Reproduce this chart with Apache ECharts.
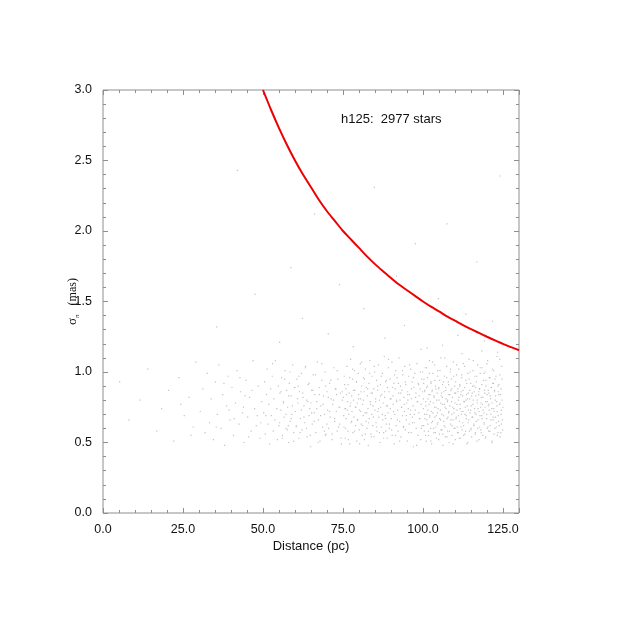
<!DOCTYPE html>
<html>
<head>
<meta charset="utf-8">
<script src="https://cdn.jsdelivr.net/npm/echarts@6/dist/echarts.min.js"></script>
<style>
  html, body { margin: 0; padding: 0; background: #fff; }
  #chart { width: 623px; height: 623px; }
</style>
</head>
<body>
<div id="chart"></div>
<script>
  // tick labels
  const xTicks = [0, 25, 50, 75, 100, 125]
  const yTicks = [0, 0.5, 1.0, 1.5, 2.0, 2.5, 3.0]

  // red limit curve: [distance pc, sigma mas]
  const limitCurve = [
    [50, 3.0], [52.5, 2.86], [55, 2.73], [57.5, 2.61], [60, 2.5], [62.5, 2.4], [65, 2.31],
    [67.5, 2.22], [70, 2.14], [72.5, 2.07], [75, 2.0], [77.5, 1.94], [80, 1.88], [82.5, 1.82],
    [85, 1.765], [87.5, 1.715], [90, 1.667], [92.5, 1.62], [95, 1.58], [97.5, 1.54], [100, 1.5],
    [102.5, 1.463], [105, 1.43], [107.5, 1.395], [110, 1.364], [112.5, 1.333], [115, 1.304],
    [117.5, 1.277], [120, 1.25], [122.5, 1.224], [125, 1.2], [127.5, 1.176], [130, 1.154]
  ]

  // stars (estimated positions, thinned), by distance band
  const starsNear = [
    [5.2,0.93],[8.1,0.66],[11.5,0.80],[14.0,1.02],[16.8,0.58],[18.3,0.74],[20.5,0.87],[22.1,0.51],
    [23.7,0.96],[25.4,0.69],[26.9,0.82],[28.2,0.61],[29.0,1.07],[27.5,0.55],[24.3,0.77]
  ]
  const starsInner = [
    [30.4,0.72],[31.2,0.88],[31.9,0.57],[32.6,0.99],[33.3,0.64],[33.8,0.81],[34.5,0.52],[35.1,0.93],
    [35.7,0.70],[36.2,1.05],[36.9,0.60],[37.4,0.84],[38.0,0.48],[38.6,0.76],[39.1,0.97],[39.7,0.66],
    [40.3,0.89],[40.8,0.55],[41.4,0.78],[41.9,1.01],[42.5,0.63],[43.0,0.86],[43.6,0.71],[44.1,0.50],
    [44.7,0.94],[45.2,0.68],[45.8,0.82],[46.3,0.58],[46.9,1.08],[47.4,0.74],[47.9,0.62],[48.5,0.90],
    [49.0,0.53],[49.6,0.79],[41.0,0.67],[43.9,0.75],[46.6,0.87],[48.2,0.69],[37.8,0.92],[35.4,0.61],
    [42.8,0.96],[45.5,0.54],[49.3,0.64],[39.4,0.73],[44.4,0.83]
  ]
  const starsMid = [
    [50.2,0.71],[50.5,0.93],[50.7,0.56],[51.1,0.84],[51.3,1.02],[51.6,0.63],[51.8,0.77],[52.1,0.49],[52.4,0.88],[52.6,0.69],
    [52.9,0.97],[53.2,0.58],[53.4,0.81],[53.7,0.66],[53.9,1.08],[54.3,0.74],[54.5,0.52],[54.8,0.90],[55.0,0.62],[55.3,0.85],
    [55.6,0.73],[55.8,0.96],[56.1,0.55],[56.4,0.79],[56.6,0.68],[56.9,1.01],[57.2,0.60],[57.4,0.87],[57.7,0.75],[58.0,0.50],
    [58.2,0.92],[58.5,0.65],[58.8,0.83],[59.0,0.70],[59.3,1.05],[59.6,0.57],[59.8,0.89],[60.1,0.72],[60.4,0.61],[60.6,0.95],
    [60.9,0.78],[61.2,0.53],[61.4,0.86],[61.7,0.67],[62.0,0.99],[62.2,0.59],[62.5,0.82],[62.8,0.76],[63.0,0.64],[63.3,1.04],
    [63.6,0.80],[63.8,0.54],[64.1,0.91],[64.4,0.69],[64.6,0.74],[64.9,0.47],[65.2,0.87],[65.4,0.63],[65.7,0.98],[66.0,0.71],
    [66.2,0.84],[66.5,0.57],[66.8,0.79],[67.0,1.07],[67.3,0.66],[67.6,0.89],[67.8,0.51],[68.1,0.76],[68.4,0.94],[68.6,0.61],
    [68.9,0.83],[69.2,0.70],[69.4,1.00],[69.7,0.56],[70.0,0.86],[70.2,0.73],[70.5,0.60],[70.8,0.92],[71.0,0.68],[71.3,0.81],
    [71.6,0.52],[71.8,0.77],[72.1,1.03],[72.4,0.65],[72.6,0.88],[72.9,0.72],[73.2,0.58],[73.4,0.95],[73.7,0.75],[74.0,0.63],
    [74.2,0.85],[74.5,0.49],[74.8,0.80],[50.9,0.69],[53.0,1.06],[57.9,0.62],[61.0,0.90],[65.0,0.78],[69.5,0.55],[73.0,0.84]
  ]
  const starsOuter = [
    [75.1,0.82],[75.3,0.61],[75.4,0.97],[75.6,0.74],[75.7,0.53],[75.9,0.88],[76.0,0.67],[76.2,1.04],[76.4,0.79],[76.5,0.58],
    [76.6,0.91],[76.8,0.70],[76.9,0.85],[77.1,0.49],[77.2,0.76],[77.4,1.09],[77.5,0.64],[77.7,0.83],[77.8,0.72],[78.0,0.95],
    [78.1,0.57],[78.3,0.80],[78.4,0.68],[78.6,1.01],[78.7,0.87],[78.9,0.62],[79.0,0.75],[79.2,0.93],[79.3,0.51],[79.5,0.78],
    [79.6,0.66],[79.8,0.99],[79.9,0.84],[80.1,0.59],[80.2,0.73],[80.4,1.06],[80.5,0.81],[80.7,0.63],[80.8,0.90],[81.0,0.55],
    [81.1,0.77],[81.3,0.69],[81.4,0.96],[81.6,0.86],[81.7,0.52],[81.9,0.71],[82.0,1.02],[82.2,0.65],[82.3,0.89],[82.5,0.60],
    [82.6,0.83],[82.8,0.74],[82.9,0.48],[83.1,0.92],[83.2,0.67],[83.4,1.08],[83.5,0.79],[83.7,0.56],[83.8,0.85],[84.0,0.70],
    [84.1,0.97],[84.3,0.62],[84.4,0.76],[84.6,0.88],[84.7,0.54],[84.9,1.00],[85.0,0.73],[85.2,0.81],[85.3,0.64],[85.5,0.94],
    [85.6,0.58],[85.8,0.87],[85.9,0.72],[86.1,1.05],[86.2,0.68],[86.4,0.80],[86.5,0.50],[86.7,0.91],[86.8,0.75],[87.0,0.61],
    [87.1,0.84],[87.3,0.99],[87.4,0.66],[87.6,0.78],[87.7,0.57],[87.9,1.11],[88.0,0.82],[88.2,0.69],[88.3,0.93],[88.5,0.63],
    [88.6,0.76],[88.8,0.53],[88.9,0.89],[89.1,0.71],[89.2,1.03],[89.4,0.86],[89.5,0.60],[89.7,0.95],[89.8,0.74],[90.0,0.81],
    [90.1,0.67],[90.3,1.07],[90.4,0.55],[90.6,0.83],[90.7,0.77],[90.9,0.92],[91.0,0.49],[91.2,0.70],[91.3,0.88],[91.5,1.01],
    [91.6,0.62],[91.8,0.79],[91.9,0.96],[92.1,0.73],[92.2,0.58],[92.4,0.85],[92.5,1.10],[92.7,0.65],[92.8,0.80],[93.0,0.90],
    [93.1,0.54],[93.3,0.75],[93.4,0.87],[93.6,0.69],[93.7,0.98],[93.9,0.61],[94.0,0.82],[94.2,0.72],[94.3,1.04],[94.5,0.59],
    [94.6,0.91],[94.8,0.66],[94.9,0.78],[95.1,0.51],[95.2,0.86],[95.4,0.74],[95.5,0.97],[95.7,0.63],[95.8,0.84],[96.0,0.70],
    [96.1,1.02],[96.3,0.57],[96.4,0.81],[96.6,0.93],[96.7,0.68],[96.9,0.76],[97.0,0.47],[97.2,0.89],[97.3,0.64],[97.5,0.99],
    [97.6,0.73],[97.8,0.85],[97.9,0.60],[98.1,1.06],[98.2,0.79],[98.4,0.55],[98.5,0.92],[98.7,0.71],[98.8,0.83],[99.0,0.67],
    [99.1,0.88],[99.3,0.52],[99.4,0.77],[99.6,0.95],[99.7,0.62],[99.9,1.00],[75.8,0.74],[80.6,0.86],[88.4,0.58],[95.3,0.80]
  ]
  const starsFar = [
    [100.1,0.74],[100.2,0.92],[100.4,0.58],[100.5,0.86],[100.6,0.67],[100.7,1.03],[100.9,0.79],[101.0,0.51],[101.1,0.89],[101.2,0.70],
    [101.4,0.96],[101.5,0.63],[101.6,0.81],[101.7,0.55],[101.9,0.77],[102.0,1.08],[102.1,0.69],[102.2,0.84],[102.4,0.60],[102.5,0.93],
    [102.6,0.72],[102.7,0.49],[102.9,0.87],[103.0,0.65],[103.1,0.99],[103.2,0.78],[103.4,0.57],[103.5,0.82],[103.6,1.05],[103.7,0.68],
    [103.9,0.90],[104.0,0.61],[104.1,0.75],[104.2,0.53],[104.4,0.85],[104.5,0.71],[104.6,1.01],[104.7,0.64],[104.9,0.88],[105.0,0.80],
    [105.1,0.56],[105.2,0.94],[105.4,0.73],[105.5,0.66],[105.6,1.10],[105.7,0.83],[105.9,0.59],[106.0,0.77],[106.1,0.91],[106.2,0.48],
    [106.4,0.69],[106.5,0.86],[106.6,0.62],[106.7,0.97],[106.9,0.75],[107.0,0.54],[107.1,0.89],[107.2,0.81],[107.4,1.04],[107.5,0.67],
    [107.6,0.79],[107.7,0.58],[107.9,0.93],[108.0,0.71],[108.1,0.84],[108.2,0.50],[108.4,0.76],[108.5,1.00],[108.6,0.63],[108.7,0.87],
    [108.9,0.95],[109.0,0.70],[109.1,0.55],[109.2,0.82],[109.4,0.66],[109.5,1.07],[109.6,0.74],[109.7,0.60],[109.9,0.90],[110.0,0.78],
    [110.1,0.52],[110.2,0.85],[110.4,0.68],[110.5,0.98],[110.6,0.73],[110.7,0.61],[110.9,0.88],[111.0,0.57],[111.1,0.80],[111.2,1.02],
    [111.4,0.65],[111.5,0.91],[111.6,0.77],[111.7,0.53],[111.9,0.86],[112.0,0.70],[112.1,0.96],[112.2,0.59],[112.4,0.83],[112.5,0.72],
    [112.6,1.06],[112.7,0.62],[112.9,0.79],[113.0,0.89],[113.1,0.56],[113.2,0.75],[113.4,0.94],[113.5,0.67],[113.6,0.84],[113.7,0.49],
    [113.9,0.81],[114.0,0.99],[114.1,0.64],[114.2,0.73],[114.4,1.09],[114.5,0.58],[114.6,0.87],[114.7,0.71],[114.9,0.92],[115.0,0.60],
    [115.1,0.76],[115.2,0.54],[115.4,0.85],[115.5,0.68],[115.6,1.01],[115.7,0.80],[115.9,0.63],[116.0,0.90],[116.1,0.74],[116.2,0.97],
    [116.4,0.57],[116.5,0.83],[116.6,0.70],[116.7,0.93],[116.9,0.51],[117.0,0.78],[117.1,1.05],[117.2,0.66],[117.4,0.86],[117.5,0.72],
    [117.6,0.88],[117.7,0.61],[117.9,0.99],[118.0,0.75],[118.1,0.59],[118.2,0.82],[118.4,0.69],[118.5,1.03],[118.6,0.77],[118.7,0.55],
    [118.9,0.94],[119.0,0.71],[119.1,0.64],[119.2,0.87],[119.4,1.00],[119.5,0.53],[119.6,0.79],[119.7,0.90],[119.9,0.67],[120.0,0.84],
    [120.1,0.60],[120.2,1.08],[120.4,0.76],[120.5,0.58],[120.6,0.85],[120.7,0.73],[120.9,0.96],[121.0,0.62],[121.1,0.81],[121.2,0.70],
    [121.4,0.89],[121.5,0.50],[121.6,0.78],[121.7,1.02],[121.9,0.66],[122.0,0.92],[122.1,0.74],[122.2,0.56],[122.4,0.87],[122.5,0.95],
    [122.6,0.68],[122.7,0.83],[122.9,0.61],[123.0,0.79],[123.1,1.11],[123.2,0.72],[123.4,0.57],[123.5,0.86],[123.6,0.65],[123.7,0.91],
    [123.9,0.77],[124.0,0.98],[124.1,0.54],[124.2,0.84],[124.4,0.70],[124.5,0.63],[124.6,1.04],[124.7,0.80],[124.9,0.59],[125.0,0.75]
  ]
  // a second pass over the denser part of the cloud
  const starsFill = [
    [55.2,0.64],[55.6,0.86],[56.0,0.53],[56.4,0.78],[56.8,0.95],[57.2,0.70],[57.6,0.59],[58.0,0.83],[58.4,1.00],[58.8,0.67],
    [59.2,0.76],[59.6,0.51],[60.0,0.89],[60.4,0.62],[60.8,0.81],[61.2,0.97],[61.6,0.57],[62.0,0.73],[62.4,0.85],[62.8,0.68],
    [63.2,1.03],[63.6,0.60],[64.0,0.79],[64.4,0.92],[64.8,0.55],[65.2,0.71],[65.6,0.87],[66.0,0.65],[66.4,0.98],[66.8,0.74],
    [67.2,0.50],[67.6,0.84],[68.0,0.69],[68.4,1.06],[68.8,0.77],[69.2,0.58],[69.6,0.90],[70.0,0.63],[70.4,0.82],[70.8,0.72],
    [71.2,0.94],[71.6,0.56],[72.0,0.80],[72.4,0.67],[72.8,0.88],[73.2,1.01],[73.6,0.61],[74.0,0.75],[74.4,0.53],[74.8,0.86],
    [75.2,0.69],[75.5,0.91],[75.8,0.60],[76.1,0.84],[76.4,0.73],[76.7,0.52],[77.1,0.96],[77.4,0.78],[77.7,0.65],[78.0,1.02],
    [78.3,0.87],[78.6,0.58],[78.9,0.75],[79.2,0.93],[79.5,0.66],[79.9,0.81],[80.2,0.49],[80.5,0.72],[80.8,1.07],[81.1,0.62],
    [81.4,0.80],[81.7,0.95],[82.0,0.56],[82.4,0.71],[82.7,0.88],[83.0,0.64],[83.3,0.99],[83.6,0.77],[83.9,0.54],[84.2,0.85],
    [84.5,0.68],[84.8,1.04],[85.2,0.79],[85.5,0.61],[85.8,0.90],[86.1,0.74],[86.4,0.57],[86.7,0.83],[87.0,0.97],[87.3,0.70],
    [87.7,0.53],[88.0,0.86],[88.3,0.67],[88.6,0.94],[88.9,0.76],[89.2,1.09],[89.5,0.63],[89.8,0.81],[90.2,0.59],[90.5,0.89],
    [90.8,0.72],[91.1,0.98],[91.4,0.55],[91.7,0.80],[92.0,0.66],[92.3,0.92],[92.7,0.51],[93.0,0.85],[93.3,0.75],[93.6,1.01],
    [93.9,0.61],[94.2,0.77],[94.5,0.93],[94.8,0.69],[95.2,0.84],[95.5,0.57],[95.8,1.05],[96.1,0.73],[96.4,0.88],[96.7,0.64],
    [97.0,0.96],[97.3,0.70],[97.7,0.82],[98.0,0.48],[98.3,0.79],[98.6,0.91],[98.9,0.67],[99.2,1.00],[99.5,0.60],[99.8,0.86],
    [100.1,0.81],[100.2,0.62],[100.3,0.95],[100.5,0.70],[100.6,0.87],[100.8,0.55],[100.9,0.76],[101.1,1.03],[101.2,0.66],[101.4,0.90],
    [101.5,0.73],[101.7,0.58],[101.8,0.84],[102.0,0.99],[102.1,0.68],[102.3,0.79],[102.4,0.51],[102.5,0.92],[102.7,0.64],[102.8,0.86],
    [103.0,1.07],[103.1,0.71],[103.3,0.60],[103.4,0.83],[103.6,0.75],[103.7,0.94],[103.9,0.57],[104.0,0.88],[104.2,0.69],[104.3,0.80],
    [104.5,0.63],[104.6,0.97],[104.7,0.74],[104.9,0.52],[105.0,0.89],[105.2,0.67],[105.3,1.01],[105.5,0.78],[105.6,0.59],[105.8,0.85],
    [105.9,0.70],[106.1,0.82],[106.2,0.56],[106.4,0.93],[106.5,0.65],[106.7,0.77],[106.8,1.10],[106.9,0.61],[107.1,0.87],[107.2,0.74],
    [107.4,0.96],[107.5,0.54],[107.7,0.80],[107.8,0.68],[108.0,0.91],[108.1,0.72],[108.3,0.58],[108.4,0.84],[108.6,1.02],[108.7,0.66],
    [108.9,0.79],[109.0,0.88],[109.1,0.62],[109.3,0.75],[109.4,0.49],[109.6,0.97],[109.7,0.71],[109.9,0.85],[110.0,0.60],[110.2,0.93],
    [110.3,0.67],[110.5,1.05],[110.6,0.77],[110.8,0.57],[110.9,0.86],[111.1,0.69],[111.2,0.82],[111.3,0.53],[111.5,0.90],[111.6,0.74],
    [111.8,0.84],[111.9,0.61],[112.1,0.98],[112.2,0.72],[112.4,0.64],[112.5,0.87],[112.7,0.55],[112.8,0.79],[113.0,1.04],[113.1,0.70],
    [113.3,0.58],[113.4,0.80],[113.5,0.69],[113.7,0.92],[113.8,0.76],[114.0,0.50],[114.1,0.85],[114.3,0.66],[114.4,0.95],[114.6,0.81],
    [114.7,1.00],[114.9,0.73],[115.0,0.59],[115.2,0.83],[115.3,0.68],[115.5,0.90],[115.6,0.77],[115.7,1.08],[115.9,0.62],[116.0,0.86],
    [116.2,0.71],[116.3,0.56],[116.5,0.89],[116.6,0.65],[116.8,0.97],[116.9,0.80],[117.1,0.60],[117.2,0.74],[117.4,0.84],[117.5,0.52],
    [117.7,0.88],[117.8,0.69],[117.9,1.03],[118.1,0.78],[118.2,0.57],[118.4,0.91],[118.5,0.67],[118.7,0.82],[118.8,0.73],[119.0,0.99],
    [119.1,0.63],[119.3,0.85],[119.4,0.75],[119.6,0.54],[119.7,0.94],[119.9,0.70],[120.0,1.06],[120.1,0.79],[120.3,0.61],[120.4,0.87],
    [120.6,0.77],[120.7,0.96],[120.9,0.58],[121.0,0.83],[121.2,0.66],[121.3,0.89],[121.5,0.74],[121.6,0.51],[121.8,0.92],[121.9,0.68],
    [122.1,1.01],[122.2,0.72],[122.3,0.86],[122.5,0.60],[122.6,0.80],[122.8,0.97],[122.9,0.64],[123.1,0.76],[123.2,0.55],[123.4,0.90],
    [123.5,0.69],[123.7,0.84],[123.8,0.62],[124.0,1.09],[124.1,0.78],[124.3,0.57],[124.4,0.88],[124.5,0.73],[124.7,0.95],[124.8,0.66]
  ]
  const starsHigh = [
    [35.5,1.32],[42.0,2.43],[47.5,1.55],[55.2,1.21],[58.7,1.74],[62.3,1.38],[66.1,2.12],[70.4,1.27],
    [73.9,1.62],[78.2,1.18],[81.5,1.45],[84.8,2.31],[88.1,1.24],[91.7,1.68],[94.2,1.33],[97.6,1.91],
    [101.3,1.17],[104.8,1.52],[107.5,2.05],[110.9,1.26],[113.4,1.41],[116.8,1.78],[119.2,1.22],[121.7,1.36],
    [124.1,2.39],[123.3,1.14],[118.4,1.15],[112.2,1.13],[106.1,1.19],[99.4,1.16]
  ]

  const stars = [].concat(starsNear, starsInner, starsMid, starsOuter, starsFar, starsFill, starsHigh)

  const sans = '"Liberation Sans Narrow", "Liberation Sans", Arial, sans-serif'
  const serif = '"Liberation Serif", "Times New Roman", serif'
  const frame = { color: '#8f8f8f', width: 1 }
  const tickLabel = { fontFamily: sans, fontSize: 12.5, color: '#111' }

  // plot box
  const box = { left: 103, right: 104, top: 90, bottom: 110 }
  const plotRight = 623 - box.right
  const plotBottom = 623 - box.bottom

  const grids = [{ ...box, show: true, borderColor: '#8f8f8f', borderWidth: 1, containLabel: false, outerBoundsMode: 'none' }]
  const xAxes = [{
    gridIndex: 0, type: 'value', min: 0, max: 130, interval: 25,
    axisLine: { show: false }, axisTick: { show: false }, splitLine: { show: false },
    axisLabel: {
      ...tickLabel, margin: 10,
      formatter: (v) => (xTicks.indexOf(v) >= 0 ? v.toFixed(1) : '')
    },
    name: 'Distance (pc)', nameLocation: 'middle', nameGap: 27, nameMoveOverlap: false,
    nameTextStyle: { fontFamily: sans, fontSize: 13, color: '#111' }
  }]
  const yAxes = [{
    gridIndex: 0, type: 'value', min: 0, max: 3, interval: 0.5,
    axisLine: { show: false }, axisTick: { show: false }, splitLine: { show: false },
    axisLabel: {
      ...tickLabel, margin: 11,
      formatter: (v) => (yTicks.indexOf(v) >= 0 ? v.toFixed(1) : '')
    },
    name: '{s|σ}{p|π}{m|(mas)}', nameLocation: 'middle', nameRotate: 90, nameGap: 22,
    nameMoveOverlap: false,
    nameTextStyle: {
      rich: {
        s: { fontFamily: serif, fontSize: 13, lineHeight: 16, color: '#111' },
        p: { fontFamily: serif, fontSize: 7, lineHeight: 8, verticalAlign: 'bottom', color: '#111' },
        m: { fontFamily: serif, fontSize: 12, lineHeight: 16, color: '#111', padding: [0, 0, 0, 9] }
      }
    }
  }]

  // inward ticks: thin strips along each edge, ruled by split lines
  function tickStrip(rect, dim, interval) {
    const gi = grids.length
    grids.push({ ...rect, containLabel: false, outerBoundsMode: 'none' })
    const ruled = {
      gridIndex: gi, type: 'value',
      axisLine: { show: false }, axisTick: { show: false }, axisLabel: { show: false },
      splitLine: { show: true, lineStyle: frame }
    }
    const blank = { gridIndex: gi, type: 'value', show: false }
    if (dim === 'x') {
      xAxes.push({ ...ruled, min: 0, max: 130, interval })
      yAxes.push(blank)
    } else {
      yAxes.push({ ...ruled, min: 0, max: 3, interval })
      xAxes.push(blank)
    }
  }
  tickStrip({ left: box.left, width: 5, top: box.top, bottom: box.bottom }, 'y', 0.5)
  tickStrip({ left: box.left, width: 3, top: box.top, bottom: box.bottom }, 'y', 0.1)
  tickStrip({ left: plotRight - 5, width: 5, top: box.top, bottom: box.bottom }, 'y', 0.5)
  tickStrip({ left: plotRight - 3, width: 3, top: box.top, bottom: box.bottom }, 'y', 0.1)
  tickStrip({ left: box.left, right: box.right, top: plotBottom - 5, height: 5 }, 'x', 25)
  tickStrip({ left: box.left, right: box.right, top: plotBottom - 3, height: 3 }, 'x', 5)
  tickStrip({ left: box.left, right: box.right, top: box.top, height: 5 }, 'x', 25)
  tickStrip({ left: box.left, right: box.right, top: box.top, height: 3 }, 'x', 5)

  const chart = echarts.init(document.getElementById('chart'))

  const option = {
    animation: false,
    grid: grids,
    xAxis: xAxes,
    yAxis: yAxes,
    graphic: [
      {
        type: 'text', left: 341, top: 113,
        style: { text: 'h125:  2977 stars', font: '13px ' + sans, fill: '#111' }
      }
    ],
    series: [
      {
        type: 'scatter', xAxisIndex: 0, yAxisIndex: 0,
        data: stars,
        symbol: 'rect', symbolSize: 1.2,
        itemStyle: { color: '#b4b4b4' },
        silent: true
      },
      {
        type: 'line', xAxisIndex: 0, yAxisIndex: 0,
        data: limitCurve,
        smooth: 0.3, showSymbol: false,
        lineStyle: { color: '#ee0000', width: 2 },
        z: 5, silent: true
      }
    ]
  }

  chart.setOption(option)
</script>
</body>
</html>
